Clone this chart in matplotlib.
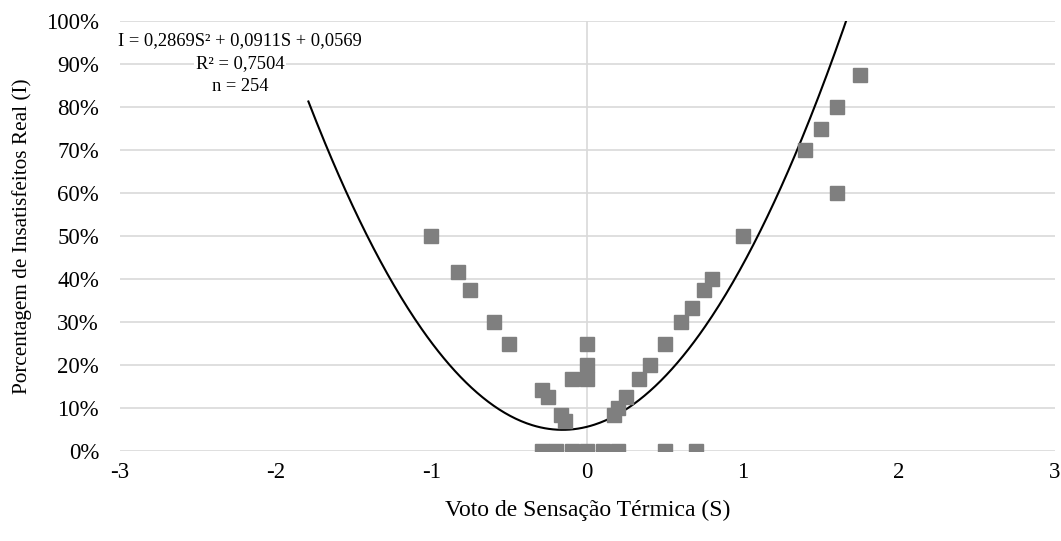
import numpy as np
import matplotlib
matplotlib.use("Agg")
import matplotlib.pyplot as plt
from matplotlib.ticker import PercentFormatter

plt.rcParams["font.family"] = ["Liberation Serif", "DejaVu Serif"]

# Data
sensacao = [-1.0, -0.83, -0.75, -0.6, -0.5, -0.29, -0.25, -0.17, -0.14, -0.1,
            0.0, 0.0, 0.0,
            0.17, 0.2, 0.25, 0.33, 0.4, 0.5, 0.6, 0.67, 0.75, 0.8, 1.0,
            1.4, 1.5, 1.6, 1.6, 1.75,
            -0.29, -0.2, -0.1, 0.0, 0.1, 0.2, 0.5, 0.7]
insatisfeitos = [0.50, 0.417, 0.375, 0.30, 0.25, 0.143, 0.125, 0.083, 0.071, 0.167,
                 0.167, 0.20, 0.25,
                 0.083, 0.10, 0.125, 0.167, 0.20, 0.25, 0.30, 0.333, 0.375, 0.40, 0.50,
                 0.70, 0.75, 0.80, 0.60, 0.875,
                 0.0, 0.0, 0.0, 0.0, 0.0, 0.0, 0.0, 0.0]

coef = [0.2869, 0.0911, 0.0569]   # I = a S^2 + b S + c
curve_start, curve_end = -1.79, 1.75
eq_lines = ["I = 0,2869S² + 0,0911S + 0,0569", "R² = 0,7504", "n = 254"]

fig = plt.figure(figsize=(10.61, 5.41), dpi=100)
ax = fig.add_axes([0.113, 0.166, 0.881, 0.795])

# Trend line
s = np.linspace(curve_start, curve_end, 400)
i = np.polyval(coef, s)
ax.plot(s, i, color="black", lw=1.5, zorder=3)

# Points
ax.plot(sensacao, insatisfeitos, linestyle="none", marker="s", markersize=10,
        color="#7f7f7f", zorder=4)

ax.set_xlim(-3, 3)
ax.set_ylim(0, 1.0)
ax.set_xticks(range(-3, 4))
ax.set_yticks(np.arange(0, 1.01, 0.1))
ax.yaxis.set_major_formatter(PercentFormatter(1.0, decimals=0))
ax.grid(axis="y", color="#d9d9d9", lw=1.2)
ax.axvline(0, color="#d9d9d9", lw=1.2, zorder=1)
ax.set_axisbelow(True)
for sp in ax.spines.values():
    sp.set_visible(False)
ax.tick_params(length=0, labelsize=16.5)
ax.tick_params(axis="x", pad=8)
ax.tick_params(axis="y", pad=15)
ax.set_xticklabels([str(v) for v in range(-3, 4)])

ax.set_xlabel("Voto de Sensação Térmica (S)", fontsize=17, labelpad=12)
ax.set_ylabel("Porcentagem de Insatisfeitos Real (I)", fontsize=15.3, labelpad=10)

# Trendline label, one box per line so gridlines show between them
for k, line in enumerate(eq_lines):
    ax.text(-2.23, 0.955 - k * 0.054, line, ha="center", va="center",
            fontsize=13.3, zorder=5,
            bbox=dict(facecolor="white", edgecolor="none", pad=1))

fig.savefig("out.png", dpi=100)
